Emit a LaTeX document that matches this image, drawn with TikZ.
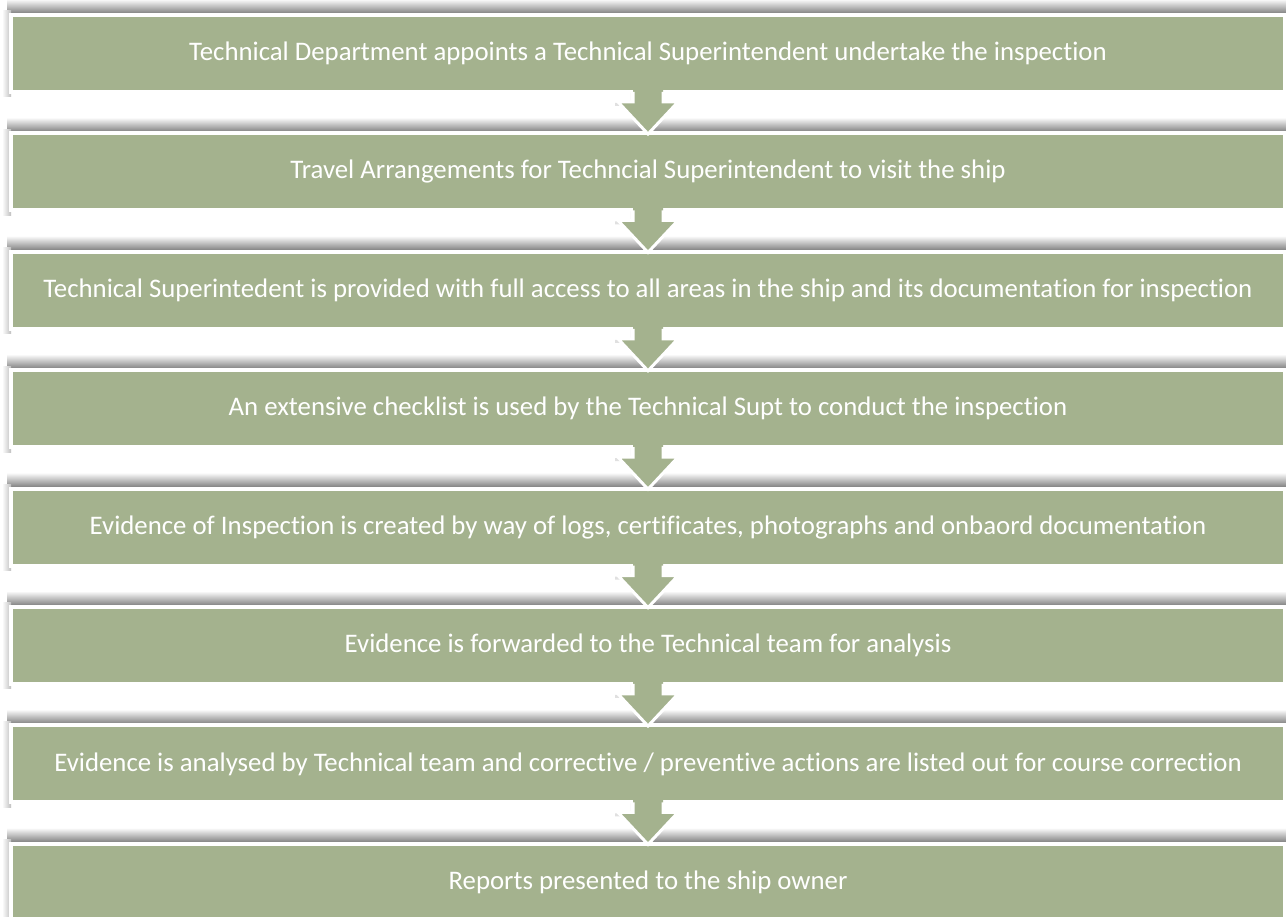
\documentclass[tikz,border=0pt]{standalone}
\usepackage{fontspec}
\setmainfont{Carlito}[Ligatures={NoCommon}]
\definecolor{boxgreen}{RGB}{164,178,142}
\tikzset{
  boxsize/.style={minimum width=1274pt, minimum height=77pt, inner sep=0pt, line width=4pt},
  ghostbox/.style={boxsize},
  stepbox/.style={boxsize, draw=white, fill=boxgreen, text=white, font=\fontsize{26.8}{32}\selectfont},
  arrowfill/.style={fill=boxgreen},
  arrowline/.style={draw=white, line width=3pt, line join=miter},
}
\newcommand{\boxshadow}[1]{%
  \shade[top color=white, bottom color=black!48] ([shift={(-2,0)}]#1.north west) rectangle ([shift={(0,14)}]#1.north east);
  \shade[left color=white, right color=black!25] ([shift={(-7,2)}]#1.north west) rectangle ([shift={(2,-3)}]#1.south west);
}
\newcommand{\flowarrow}[1]{%
  \fill[black!12] ([shift={(-18,1)}]#1.south) -- ++(0,-10) -- ++(-15,0) -- ++(0,-3) -- ++(15,0) -- cycle;
  \fill[arrowfill] ([shift={(-15,6)}]#1.south) -- ++(0,-14) -- ++(-15,0) -- ([shift={(0,-40)}]#1.south)
     -- ([shift={(30,-8)}]#1.south) -- ++(-15,0) -- ++(0,14) -- cycle;
  \draw[arrowline] ([shift={(-15,2)}]#1.south) -- ++(0,-10) -- ++(-15,0) -- ([shift={(0,-40)}]#1.south)
     -- ([shift={(30,-8)}]#1.south) -- ++(-15,0) -- ++(0,10);
}
\begin{document}
\begin{tikzpicture}[x=1pt,y=1pt]
\clip (0,0) rectangle (1286,917);
\fill[white] (0,0) rectangle (1286,917);
\path
  (648,863.5) node[ghostbox] (b1) {}
  (648,745.1) node[ghostbox] (b2) {}
  (648,626.7) node[ghostbox] (b3) {}
  (648,508.3) node[ghostbox] (b4) {}
  (648,389.9) node[ghostbox] (b5) {}
  (648,271.5) node[ghostbox] (b6) {}
  (648,153.1) node[ghostbox] (b7) {}
  (648,34.7)  node[ghostbox] (b8) {};
\foreach \n in {b1,b2,b3,b4,b5,b6,b7,b8} {\boxshadow{\n}}
\node[stepbox] (s1) at (b1) {Technical Department appoints a Technical Superintendent undertake the inspection};
\node[stepbox] (s2) at (b2) {Travel Arrangements for Techncial Superintendent to visit the ship};
\node[stepbox] (s3) at (b3) {Technical Superintedent is provided with full access to all areas in the ship and its documentation for inspection};
\node[stepbox] (s4) at (b4) {An extensive checklist is used by the Technical Supt to conduct the inspection};
\node[stepbox] (s5) at (b5) {Evidence of Inspection is created by way of logs, certificates, photographs and onbaord documentation};
\node[stepbox] (s6) at (b6) {Evidence is forwarded to the Technical team for analysis};
\node[stepbox] (s7) at (b7) {Evidence is analysed by Technical team and corrective / preventive actions are listed out for course correction};
\node[stepbox] (s8) at (b8) {Reports presented to the ship owner};
\foreach \n in {b1,b2,b3,b4,b5,b6,b7} {\flowarrow{\n}}
\end{tikzpicture}
\end{document}
